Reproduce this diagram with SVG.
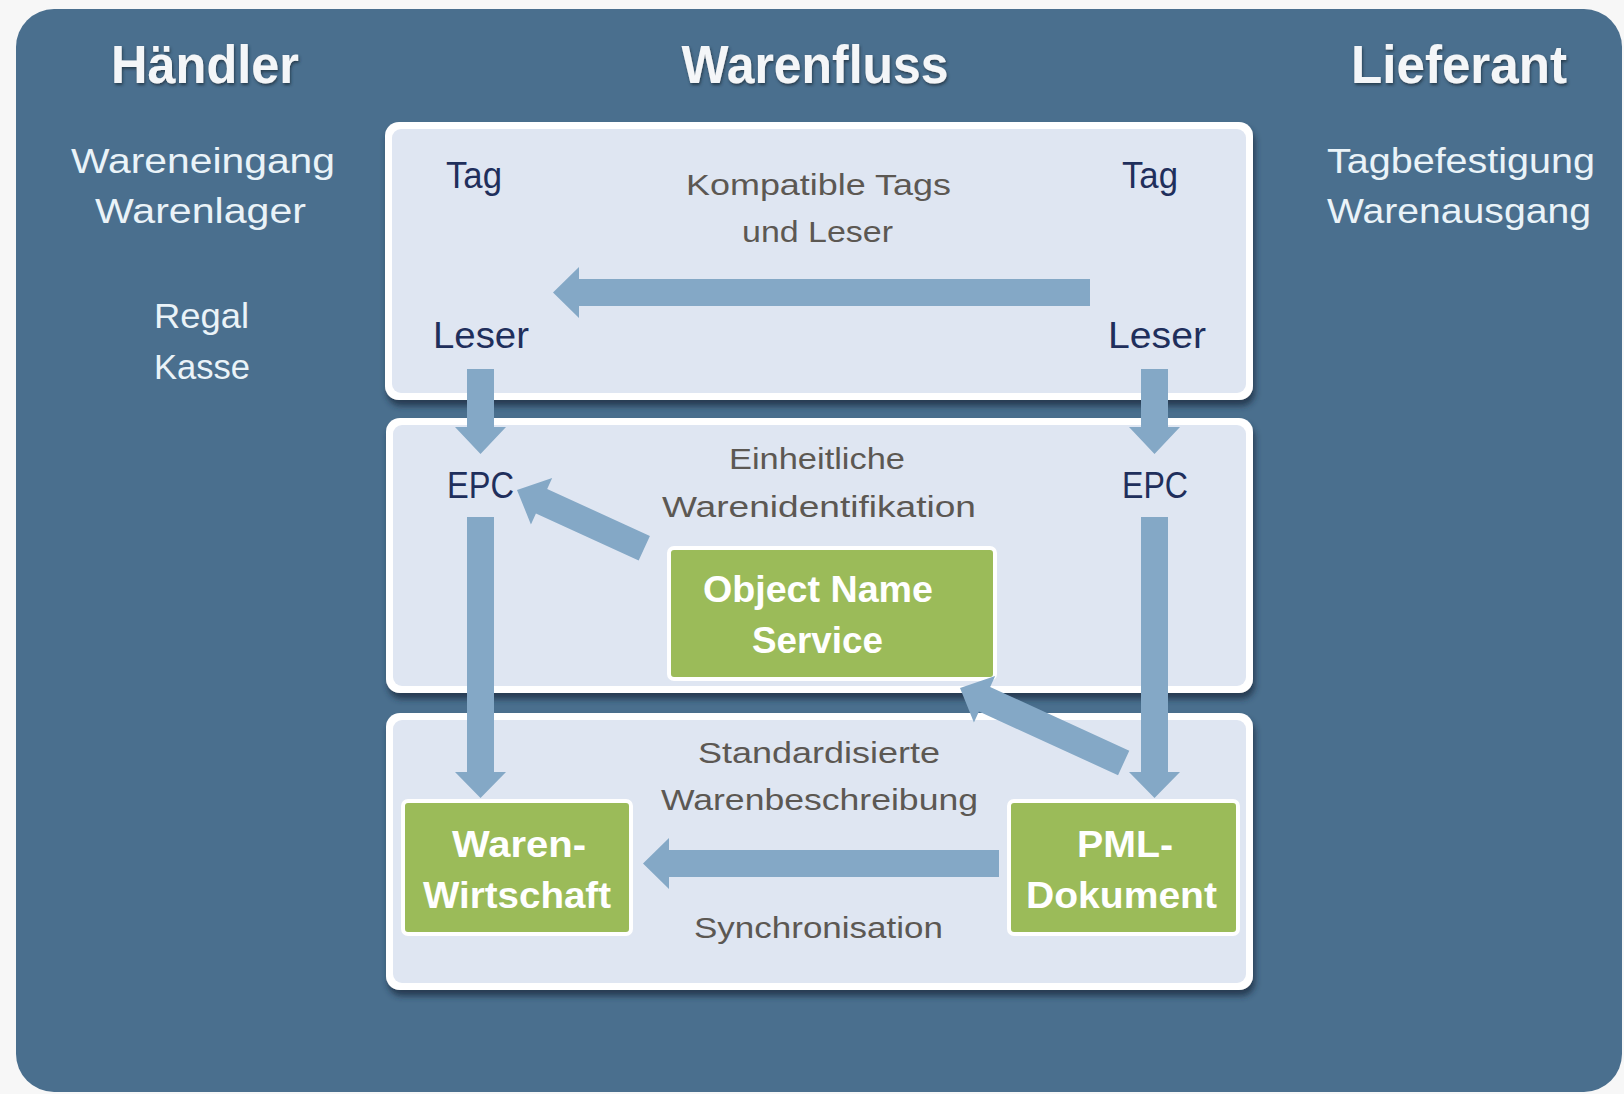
<svg xmlns="http://www.w3.org/2000/svg" width="1624" height="1094" viewBox="0 0 1624 1094">
<style>
text{font-family:"Liberation Sans",Arial,sans-serif;text-anchor:middle}
.hdr{font-size:54px;font-weight:bold;fill:#f4f6f8}
.side{font-size:35px;fill:#eaf3f8}
.lbl{font-size:30px;fill:#5c5853}
.key{font-size:36px;fill:#1f2f5c}
.gtx{font-size:36px;font-weight:bold;fill:#ffffff}
.box{fill:#ffffff}
.boxin{fill:#dfe6f2}
.green{fill:#9bbb59;stroke:#ffffff;stroke-width:4}
.arr{fill:#84a8c6}
</style>
<defs>
<filter id="sh" x="-5%" y="-5%" width="110%" height="120%">
<feDropShadow dx="2" dy="6" stdDeviation="3" flood-color="#1c3246" flood-opacity="0.85"/>
</filter>
<filter id="tsh" x="-10%" y="-20%" width="120%" height="150%">
<feDropShadow dx="1" dy="2" stdDeviation="1.5" flood-color="#22384a" flood-opacity="0.9"/>
</filter>
</defs>
<rect x="0" y="0" width="1624" height="1094" fill="#f7f7f7"/>
<rect x="16" y="9" width="1606" height="1083" rx="38" fill="#4a6f8e"/>

<g id="headers" filter="url(#tsh)">
<text class="hdr" x="205" y="83" textLength="188" lengthAdjust="spacingAndGlyphs">Händler</text>
<text class="hdr" x="815" y="83" textLength="267" lengthAdjust="spacingAndGlyphs">Warenfluss</text>
<text class="hdr" x="1459" y="83" textLength="216" lengthAdjust="spacingAndGlyphs">Lieferant</text>
</g>

<g id="haendler-list">
<text class="side" x="203" y="173" textLength="264" lengthAdjust="spacingAndGlyphs">Wareneingang</text>
<text class="side" x="200.5" y="223" textLength="211" lengthAdjust="spacingAndGlyphs">Warenlager</text>
<text class="side" x="201.5" y="328" textLength="95" lengthAdjust="spacingAndGlyphs">Regal</text>
<text class="side" x="202" y="379" textLength="96" lengthAdjust="spacingAndGlyphs">Kasse</text>
</g>

<g id="lieferant-list">
<text class="side" x="1461" y="173" textLength="268" lengthAdjust="spacingAndGlyphs">Tagbefestigung</text>
<text class="side" x="1459" y="223" textLength="264" lengthAdjust="spacingAndGlyphs">Warenausgang</text>
</g>

<g id="layer-tags">
<rect class="box" x="385" y="122" width="868" height="278" rx="14" filter="url(#sh)"/>
<rect class="boxin" x="392" y="129" width="854" height="264" rx="9"/>
<text class="key" x="474" y="188" textLength="56" lengthAdjust="spacingAndGlyphs">Tag</text>
<text class="key" x="1150" y="188" textLength="56" lengthAdjust="spacingAndGlyphs">Tag</text>
<text class="lbl" x="818.5" y="195" textLength="265" lengthAdjust="spacingAndGlyphs">Kompatible  Tags</text>
<text class="lbl" x="817.5" y="242" textLength="151" lengthAdjust="spacingAndGlyphs">und Leser</text>
<text class="key" x="481" y="348" textLength="96" lengthAdjust="spacingAndGlyphs">Leser</text>
<text class="key" x="1157" y="348" textLength="98" lengthAdjust="spacingAndGlyphs">Leser</text>
</g>

<g id="layer-epc">
<rect class="box" x="386" y="418" width="867" height="275" rx="14" filter="url(#sh)"/>
<rect class="boxin" x="393" y="425" width="853" height="261" rx="9"/>
<text class="lbl" x="817" y="469" textLength="176" lengthAdjust="spacingAndGlyphs">Einheitliche</text>
<text class="lbl" x="819" y="517" textLength="314" lengthAdjust="spacingAndGlyphs">Warenidentifikation</text>
<text class="key" x="480.5" y="498" textLength="67" lengthAdjust="spacingAndGlyphs">EPC</text>
<text class="key" x="1155" y="498" textLength="66" lengthAdjust="spacingAndGlyphs">EPC</text>
</g>

<g id="layer-pml">
<rect class="box" x="386" y="713" width="867" height="277" rx="14" filter="url(#sh)"/>
<rect class="boxin" x="393" y="720" width="853" height="263" rx="9"/>
<text class="lbl" x="819" y="763" textLength="242" lengthAdjust="spacingAndGlyphs">Standardisierte</text>
<text class="lbl" x="819.5" y="810" textLength="317" lengthAdjust="spacingAndGlyphs">Warenbeschreibung</text>
<text class="lbl" x="818.5" y="938" textLength="249" lengthAdjust="spacingAndGlyphs">Synchronisation</text>
</g>

<g id="ons">
<rect class="green" x="669" y="548" width="326" height="131" rx="5"/>
<text class="gtx" x="818" y="602" textLength="230" lengthAdjust="spacingAndGlyphs">Object Name</text>
<text class="gtx" x="817.5" y="653" textLength="131" lengthAdjust="spacingAndGlyphs">Service</text>
</g>

<g id="warenwirtschaft">
<rect class="green" x="403" y="801" width="228" height="133" rx="5"/>
<text class="gtx" x="519" y="857" textLength="134" lengthAdjust="spacingAndGlyphs">Waren-</text>
<text class="gtx" x="517" y="908" textLength="188" lengthAdjust="spacingAndGlyphs">Wirtschaft</text>
</g>

<g id="pml-dokument">
<rect class="green" x="1009" y="801" width="229" height="133" rx="5"/>
<text class="gtx" x="1125" y="857" textLength="96" lengthAdjust="spacingAndGlyphs">PML-</text>
<text class="gtx" x="1121.5" y="908" textLength="191" lengthAdjust="spacingAndGlyphs">Dokument</text>
</g>

<g id="connectors" class="arr">
<path d="M553,292.5 L579,267 L579,279 L1090,279 L1090,306 L579,306 L579,318 Z"/>
<path d="M643,863.5 L669,838 L669,850 L999,850 L999,877 L669,877 L669,889 Z"/>
<path d="M467,369 L494,369 L494,427 L506,427 L480.5,454 L455,427 L467,427 Z"/>
<path d="M1141,369 L1168,369 L1168,427 L1180,427 L1154.5,454 L1129,427 L1141,427 Z"/>
<path d="M467,517 L494,517 L494,772 L506,772 L480.5,798 L455,772 L467,772 Z"/>
<path d="M1141,517 L1168,517 L1168,772 L1180,772 L1154.5,798 L1129,772 L1141,772 Z"/>
<path transform="translate(517,490) rotate(24.6)" d="M0,0 L27,-25.5 L27,-13.5 L140,-13.5 L140,13.5 L27,13.5 L27,25.5 Z"/>
<path transform="translate(960,688) rotate(24.6)" d="M0,0 L27,-25.5 L27,-13.5 L180,-13.5 L180,13.5 L27,13.5 L27,25.5 Z"/>
</g>
</svg>
